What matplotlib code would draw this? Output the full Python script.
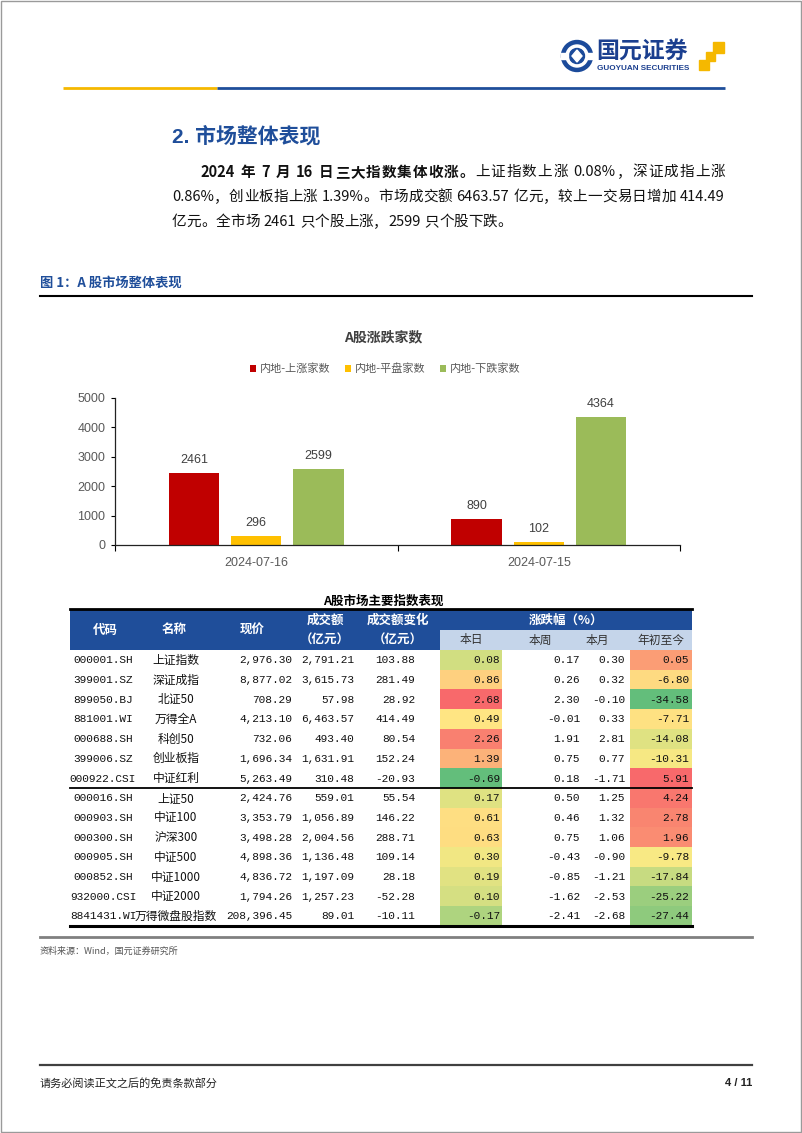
import re
import numpy as np
import matplotlib
matplotlib.use("Agg")
import matplotlib.pyplot as plt
from matplotlib.patches import Rectangle, Circle, Polygon
from matplotlib.colors import LinearSegmentedColormap, TwoSlopeNorm

plt.rcParams['font.family'] = ['Noto Sans CJK SC', 'DejaVu Sans']

# ---- chart data ----
dates = ['2024-07-16', '2024-07-15']
up_cnt = [2461, 890]
flat_cnt = [296, 102]
down_cnt = [2599, 4364]
series_names = ['内地-上涨家数', '内地-平盘家数', '内地-下跌家数']

# ---- table data ----
codes = ['000001.SH', '399001.SZ', '899050.BJ', '881001.WI', '000688.SH', '399006.SZ', '000922.CSI',
         '000016.SH', '000903.SH', '000300.SH', '000905.SH', '000852.SH', '932000.CSI', '8841431.WI']
names = ['上证指数', '深证成指', '北证50', '万得全A', '科创50', '创业板指', '中证红利',
         '上证50', '中证100', '沪深300', '中证500', '中证1000', '中证2000', '万得微盘股指数']
price = [2976.30, 8877.02, 708.29, 4213.10, 732.06, 1696.34, 5263.49,
         2424.76, 3353.79, 3498.28, 4898.36, 4836.72, 1794.26, 208396.45]
amount = [2791.21, 3615.73, 57.98, 6463.57, 493.40, 1631.91, 310.48,
          559.01, 1056.89, 2004.56, 1136.48, 1197.09, 1257.23, 89.01]
amount_chg = [103.88, 281.49, 28.92, 414.49, 80.54, 152.24, -20.93,
              55.54, 146.22, 288.71, 109.14, 28.18, -52.28, -10.11]
chg_day = [0.08, 0.86, 2.68, 0.49, 2.26, 1.39, -0.69, 0.17, 0.61, 0.63, 0.30, 0.19, 0.10, -0.17]
chg_week = [0.17, 0.26, 2.30, -0.01, 1.91, 0.75, 0.18, 0.50, 0.46, 0.75, -0.43, -0.85, -1.62, -2.41]
chg_month = [0.30, 0.32, -0.10, 0.33, 2.81, 0.77, -1.71, 1.25, 1.32, 1.06, -0.90, -1.21, -2.53, -2.68]
chg_ytd = [0.05, -6.80, -34.58, -7.71, -14.08, -10.31, 5.91, 4.24, 2.78, 1.96, -9.78, -17.84, -25.22, -27.44]

BLUE = '#1F4E9A'
W, H = 802, 1133
fig = plt.figure(figsize=(W / 100, H / 100), dpi=100)
page = fig.add_axes([0, 0, 1, 1])
page.set_xlim(0, W)
page.set_ylim(H, 0)
page.axis('off')

# page frame
page.add_patch(Rectangle((1, 1), W - 2.5, H - 2.5, fill=False, ec='#9a9a9a', lw=1))

# ---- header logo ----
page.add_patch(Circle((577, 56), 15.5, color='#1B4A9A'))
page.add_patch(Circle((577, 56), 11, color='white'))
page.add_patch(Circle((577, 56), 7.5, color='#1B4A9A'))
page.add_patch(Polygon([(577, 50), (582, 56), (577, 62), (572, 56)], color='white'))
page.add_patch(Rectangle((561, 53), 7, 6, color='white'))
page.add_patch(Rectangle((586, 53), 7, 6, color='white'))
page.text(596, 52, '国元证券', fontsize=16.5, fontweight='bold', color='#1B3F8F', va='center')
page.text(597, 68, 'GUOYUAN SECURITIES', fontsize=5.9, fontweight='bold', color='#1B3F8F',
          va='center', family=['Liberation Sans', 'DejaVu Sans'])
for (x, y, s) in [(713, 42, 11), (706, 52, 9), (699, 60, 10)]:
    page.add_patch(Rectangle((x, y), s, s, color='#F5B800'))
page.plot([63, 217], [88, 88], color='#F5B800', lw=2, solid_capstyle='butt')
page.plot([217, 725], [88, 88], color='#1F4E9A', lw=2, solid_capstyle='butt')

# ---- section heading ----
page.text(172, 136, '2. 市场整体表现', fontsize=15, fontweight='bold', color=BLUE, va='center',
          family=['Liberation Sans', 'Noto Sans CJK SC'])

# ---- paragraph with justified lines ----
renderer = fig.canvas.get_renderer()


def units_of(s, weight):
    out = []
    for tok in re.findall(r'[A-Za-z0-9.%]+|\s+|.', s):
        out.append((tok, weight))
    return out


def draw_line(x0, x1, y, units, justify=True, fs=10.5):
    objs = []
    widths = []
    for tok, wgt in units:
        if tok.isspace():
            objs.append(None)
            widths.append(4.0)
            continue
        t = page.text(0, y, tok, fontsize=fs, fontweight=wgt, va='center', ha='left', color='#111111')
        objs.append(t)
        widths.append(t.get_window_extent(renderer).width)
    gap = (x1 - x0 - sum(widths)) / max(len(units) - 1, 1) if justify else 0.0
    x = x0
    for t, w in zip(objs, widths):
        if t is not None:
            t.set_x(x)
        x += w + gap


draw_line(200, 725, 172, units_of('2024 年 7 月 16 日三大指数集体收涨。', 'bold') +
          units_of('上证指数上涨 0.08%，深证成指上涨', 'normal'))
draw_line(172, 725, 197, units_of('0.86%，创业板指上涨 1.39%。市场成交额 6463.57 亿元，较上一交易日增加 414.49', 'normal'))
draw_line(172, 725, 222, units_of('亿元。全市场 2461 只个股上涨，2599 只个股下跌。', 'normal'), justify=False)

# ---- figure label ----
page.text(40, 283, '图 1：A 股市场整体表现', fontsize=9.5, fontweight='bold', color=BLUE, va='center')
page.plot([40, 752], [296, 296], color='black', lw=1.5)

# ---- bar chart ----
page.text(383, 337, 'A股涨跌家数', fontsize=10, fontweight='bold', color='#404040', ha='center', va='center')
ax = fig.add_axes([115 / W, 1 - 545 / H, 565 / W, 147 / H])
x = np.arange(len(dates))
colors = ['#C00000', '#FFC000', '#9BBB59']
for j, (vals, c, lab) in enumerate(zip([up_cnt, flat_cnt, down_cnt], colors, series_names)):
    bars = ax.bar(x + (j - 1) * 0.22, vals, 0.178, color=c, label=lab)
    ax.bar_label(bars, padding=5, fontsize=9, color='#404040', family=['Liberation Sans', 'DejaVu Sans'])
ax.set_xlim(-0.5, 1.5)
ax.set_ylim(0, 5000)
ax.set_yticks(range(0, 5001, 1000))
ax.set_xticks(x)
ax.set_xticklabels(dates)
ax.set_xticks([-0.5, 0.5, 1.5], minor=True)
ax.tick_params(axis='x', which='major', length=0, pad=9)
ax.tick_params(axis='x', which='minor', length=4, direction='out', width=0.8)
ax.tick_params(axis='y', length=3, direction='out', width=0.8, pad=4)
for lbl in ax.get_xticklabels() + ax.get_yticklabels():
    lbl.set_fontsize(9)
    lbl.set_color('#595959')
    lbl.set_family(['Liberation Sans', 'DejaVu Sans'])
for s in ['top', 'right']:
    ax.spines[s].set_visible(False)
for s in ['left', 'bottom']:
    ax.spines[s].set_color('#222222')
    ax.spines[s].set_linewidth(0.9)
ax.set_facecolor('none')
fig.legend(loc='center', bbox_to_anchor=(385 / W, 1 - 369 / H), ncol=3, frameon=False,
           handlelength=0.6, handleheight=0.6, handletextpad=0.3, columnspacing=1.3,
           prop={'size': 8, 'family': ['Noto Sans CJK SC']}, labelcolor='#595959')

# ---- table ----
page.text(383, 601, 'A股市场主要指数表现', fontsize=9, fontweight='bold', ha='center', va='center')
tx0, tx1 = 70, 692
col_edges = [70, 140, 212, 295, 357, 440, 502, 565, 630, 692]
hdr_top, hdr_mid, hdr_bot = 610, 630, 650
row_h = 19.7
page.add_patch(Rectangle((tx0, hdr_top), tx1 - tx0, hdr_bot - hdr_top, color='#1F4E9A', lw=0))
page.add_patch(Rectangle((col_edges[5], hdr_mid), tx1 - col_edges[5], hdr_bot - hdr_mid, color='#C5D5EA', lw=0))
hdr_kw = dict(color='white', fontsize=9, fontweight='bold', ha='center', va='center')
page.text(105, 630, '代码', **hdr_kw)
page.text(174, 630, '名称', **hdr_kw)
page.text(252, 630, '现价', **hdr_kw)
page.text(325, 620, '成交额', **hdr_kw)
page.text(325, 640, '（亿元）', **hdr_kw)
page.text(398, 620, '成交额变化', **hdr_kw)
page.text(398, 640, '（亿元）', **hdr_kw)
page.text(566, 620, '涨跌幅（%）', **hdr_kw)
for lab, cx in zip(['本日', '本周', '本月', '年初至今'], [471, 540, 597, 661]):
    page.text(cx, 640, lab, fontsize=8.5, color='#333333', ha='center', va='center')

cmap = LinearSegmentedColormap.from_list('rag', ['#63BE7B', '#FFEB84', '#F8696B'])
norm_day = TwoSlopeNorm(vmin=min(chg_day), vcenter=np.percentile(chg_day, 50), vmax=max(chg_day))
norm_ytd = TwoSlopeNorm(vmin=min(chg_ytd), vcenter=np.percentile(chg_ytd, 50), vmax=max(chg_ytd))

num_kw = dict(fontsize=8, va='center', color='#111111', family=['Liberation Mono', 'Noto Sans CJK SC'])
for i in range(len(codes)):
    y0 = hdr_bot + i * row_h
    yc = y0 + row_h / 2 + 0.5
    page.add_patch(Rectangle((col_edges[5], y0), col_edges[6] - col_edges[5], row_h,
                             color=cmap(norm_day(chg_day[i])), lw=0))
    page.add_patch(Rectangle((col_edges[8], y0), col_edges[9] - col_edges[8], row_h,
                             color=cmap(norm_ytd(chg_ytd[i])), lw=0))
    page.text(103, yc, codes[i], ha='center', **num_kw)
    page.text(176, yc, names[i], ha='center', va='center', fontsize=8.5, color='#111111')
    page.text(292, yc, f'{price[i]:,.2f}', ha='right', **num_kw)
    page.text(354, yc, f'{amount[i]:,.2f}', ha='right', **num_kw)
    page.text(415, yc, f'{amount_chg[i]:,.2f}', ha='right', **num_kw)
    page.text(500, yc, f'{chg_day[i]:.2f}', ha='right', **num_kw)
    page.text(580, yc, f'{chg_week[i]:.2f}', ha='right', **num_kw)
    page.text(625, yc, f'{chg_month[i]:.2f}', ha='right', **num_kw)
    page.text(689, yc, f'{chg_ytd[i]:.2f}', ha='right', **num_kw)

page.plot([tx0, tx1], [609, 609], color='black', lw=2)
page.plot([tx0, tx1], [hdr_bot + 7 * row_h, hdr_bot + 7 * row_h], color='black', lw=1.3)
page.plot([tx0, tx1], [hdr_bot + 14 * row_h, hdr_bot + 14 * row_h], color='black', lw=2.2)

page.plot([40, 752], [937, 937], color='#808080', lw=2)
page.text(40, 951, '资料来源：Wind，国元证券研究所', fontsize=6.5, color='#555555', va='center')

# ---- footer ----
page.plot([40, 752], [1065, 1065], color='#404040', lw=1.6)
page.text(40, 1083, '请务必阅读正文之后的免责条款部分', fontsize=8, color='#222222', va='center')
page.text(752, 1083, '4 / 11', fontsize=8, fontweight='bold', color='#222222', ha='right', va='center',
          family=['Liberation Sans', 'DejaVu Sans'])

fig.savefig('out.png', dpi=100)
